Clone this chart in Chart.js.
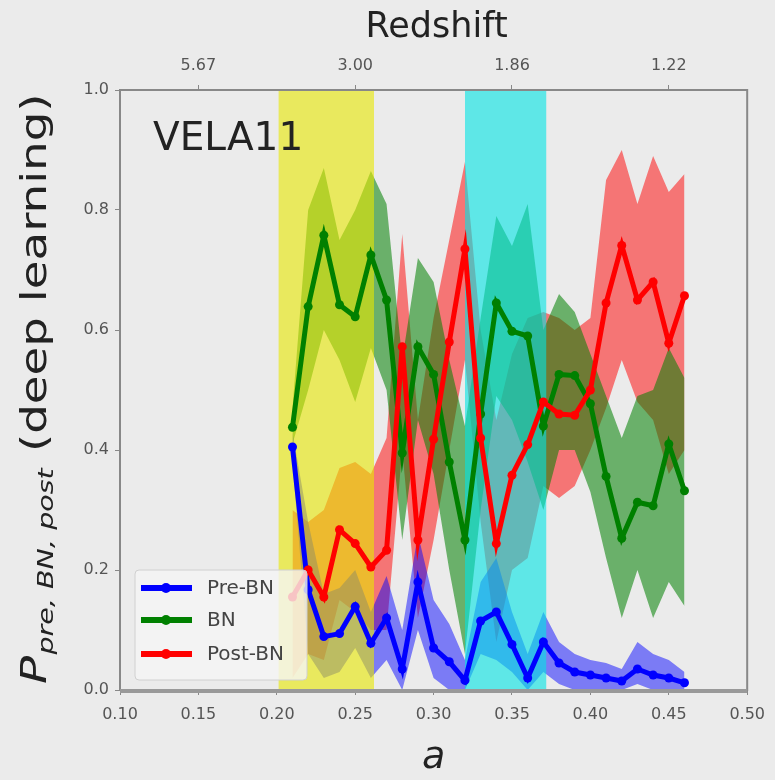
<!DOCTYPE html>
<html lang="en">
<head>
<meta charset="UTF-8">
<title>VELA11</title>
<script src="https://cdn.jsdelivr.net/npm/chart.js@4.4.1/dist/chart.umd.min.js"></script>
<style>
  html, body { margin: 0; padding: 0; background: #ebebeb; }
  canvas { display: block; }
</style>
</head>
<body>
<canvas id="chart" width="775" height="780"></canvas>
<script>
// scale factor a of each snapshot
const aVals = [0.21, 0.22, 0.23, 0.24, 0.25, 0.26, 0.27, 0.28, 0.29, 0.30, 0.31, 0.32, 0.33,
               0.34, 0.35, 0.36, 0.37, 0.38, 0.39, 0.40, 0.41, 0.42, 0.43, 0.44, 0.45, 0.46]

const preBN   = [0.405, 0.167, 0.089, 0.094, 0.139, 0.078, 0.12, 0.035, 0.18, 0.07, 0.047, 0.016, 0.115,
                 0.13, 0.076, 0.02, 0.08, 0.045, 0.03, 0.025, 0.02, 0.015, 0.035, 0.025, 0.02, 0.012]
const preBNHi = [0.43, 0.28, 0.16, 0.17, 0.20, 0.13, 0.19, 0.10, 0.26, 0.15, 0.11, 0.05, 0.18,
                 0.22, 0.13, 0.06, 0.13, 0.08, 0.06, 0.05, 0.045, 0.035, 0.08, 0.06, 0.05, 0.03]
const preBNLo = [0.38, 0.06, 0.02, 0.03, 0.07, 0.02, 0.05, 0.0, 0.10, 0.02, 0.0, 0.0, 0.06,
                 0.05, 0.03, 0.0, 0.03, 0.01, 0.0, 0.0, 0.0, 0.0, 0.01, 0.0, 0.0, 0.0]

const BN   = [0.438, 0.639, 0.758, 0.642, 0.622, 0.725, 0.65, 0.395, 0.572, 0.526, 0.38, 0.25, 0.46,
              0.645, 0.598, 0.59, 0.44, 0.526, 0.524, 0.477, 0.356, 0.253, 0.313, 0.307, 0.41, 0.332]
const BNHi = [0.47, 0.80, 0.87, 0.75, 0.80, 0.865, 0.81, 0.55, 0.72, 0.68, 0.55, 0.44, 0.62,
              0.79, 0.74, 0.81, 0.60, 0.66, 0.63, 0.56, 0.49, 0.42, 0.49, 0.50, 0.57, 0.52]
const BNLo = [0.41, 0.50, 0.60, 0.55, 0.48, 0.57, 0.50, 0.25, 0.45, 0.36, 0.20, 0.06, 0.30,
              0.49, 0.45, 0.38, 0.30, 0.40, 0.40, 0.33, 0.22, 0.12, 0.20, 0.12, 0.18, 0.14]

const postBN   = [0.155, 0.20, 0.155, 0.267, 0.244, 0.205, 0.233, 0.572, 0.25, 0.418, 0.58, 0.735, 0.42,
                  0.244, 0.358, 0.409, 0.48, 0.46, 0.458, 0.50, 0.645, 0.741, 0.65, 0.68, 0.578, 0.657]
const postBNHi = [0.30, 0.28, 0.30, 0.37, 0.38, 0.36, 0.42, 0.76, 0.45, 0.62, 0.75, 0.88, 0.60,
                  0.45, 0.56, 0.62, 0.63, 0.62, 0.60, 0.62, 0.85, 0.90, 0.81, 0.89, 0.83, 0.86]
const postBNLo = [0.02, 0.06, 0.05, 0.15, 0.13, 0.10, 0.10, 0.40, 0.12, 0.25, 0.40, 0.55, 0.28,
                  0.08, 0.20, 0.22, 0.34, 0.32, 0.34, 0.40, 0.47, 0.55, 0.48, 0.45, 0.36, 0.40]

// shaded phases (in a)
const yellowSpan = [0.201, 0.262]
const cyanSpan   = [0.320, 0.372]

// top axis: redshift labels at these a
const topTickA      = [0.15, 0.25, 0.35, 0.45]
const topTickLabels = ['5.67', '3.00', '1.86', '1.22']

const seriesNames = ['Pre-BN', 'BN', 'Post-BN']
const seriesColors = ['#0000ff', '#008000', '#ff0000']

const FONT = "'DejaVu Sans', sans-serif"
const pts = (ys) => aVals.map((a, i) => ({x: a, y: ys[i]}))

// spans sit above the bands but under the lines
function span(s, color) {
	return {
		data: [{x: s[0], y: 1}, {x: s[1], y: 1}],
		backgroundColor: color, borderWidth: 0, pointRadius: 0,
		fill: 'origin', order: 5
	}
}
function bandPair(hi, lo, color, order) {
	return [
		{ data: pts(hi), backgroundColor: color, borderWidth: 0, pointRadius: 0, fill: '+1', order: order },
		{ data: pts(lo), borderWidth: 0, pointRadius: 0, fill: false, order: order }
	]
}
function lineSet(ys, i) {
	return {
		label: seriesNames[i], data: pts(ys),
		borderColor: seriesColors[i], backgroundColor: seriesColors[i],
		borderWidth: 5, pointRadius: 4.5, pointBorderWidth: 0,
		pointBackgroundColor: seriesColors[i], fill: false, order: 3 - i
	}
}

const datasets = [
	span(yellowSpan, 'rgba(232,232,0,0.6)'),
	span(cyanSpan, 'rgba(0,228,228,0.6)'),
	...bandPair(preBNHi, preBNLo, 'rgba(0,0,255,0.48)', 10),
	...bandPair(BNHi, BNLo, 'rgba(0,128,0,0.55)', 11),
	...bandPair(postBNHi, postBNLo, 'rgba(255,0,0,0.5)', 12),
	lineSet(preBN, 0),
	lineSet(BN, 1),
	lineSet(postBN, 2)
]

const extras = {
	id: 'extras',
	beforeDraw(chart) {
		const ctx = chart.ctx
		ctx.save()
		ctx.fillStyle = '#ebebeb'
		ctx.fillRect(0, 0, chart.width, chart.height)
		ctx.restore()
	},
	afterDatasetsDraw(chart) {
		const ctx = chart.ctx
		const ca = chart.chartArea
		ctx.save()
		// frame
		ctx.strokeStyle = '#888'
		ctx.lineWidth = 2
		ctx.strokeRect(ca.left, ca.top, ca.right - ca.left, ca.bottom - ca.top)
		ctx.fillStyle = '#999'
		ctx.fillRect(ca.left, ca.bottom - 1, ca.right - ca.left, 4)

		// label in corner
		ctx.fillStyle = '#222'
		ctx.font = '39px ' + FONT
		ctx.textBaseline = 'alphabetic'
		ctx.fillText('VELA11', 153, 150)

		// legend box
		const lx = 135, ly = 570, lw = 172, lh = 110
		ctx.fillStyle = 'rgba(245,245,245,0.8)'
		ctx.strokeStyle = '#d0d0d0'
		ctx.lineWidth = 1
		ctx.beginPath()
		ctx.roundRect(lx, ly, lw, lh, 4)
		ctx.fill()
		ctx.stroke()
		const rows = [588, 620, 654]
		seriesNames.forEach((name, i) => {
			const y = rows[i]
			ctx.strokeStyle = seriesColors[i]
			ctx.lineWidth = 6
			ctx.beginPath()
			ctx.moveTo(141, y)
			ctx.lineTo(192, y)
			ctx.stroke()
			ctx.fillStyle = seriesColors[i]
			ctx.beginPath()
			ctx.arc(166, y, 5, 0, Math.PI * 2)
			ctx.fill()
			ctx.fillStyle = '#444'
			ctx.font = '20px ' + FONT
			ctx.textBaseline = 'middle'
			ctx.fillText(name, 207, y + 1)
		})
		ctx.restore()
	},
	afterDraw(chart) {
		const ctx = chart.ctx
		const ca = chart.chartArea
		const cx = (ca.left + ca.right) / 2
		ctx.save()
		ctx.fillStyle = '#222'
		ctx.textAlign = 'center'
		ctx.textBaseline = 'alphabetic'
		ctx.font = '35px ' + FONT
		ctx.fillText('Redshift', cx + 3, 37)
		ctx.font = 'italic 38px ' + FONT
		ctx.fillText('a', cx, 768)

		// y title, stretched along its length to span the axis
		ctx.textAlign = 'left'
		const f1 = 'italic 36px ' + FONT, f2 = 'italic 22px ' + FONT, f3 = '36px ' + FONT
		const t1 = 'P', t2 = 'pre, BN, post', t3 = ' (deep learning)'
		ctx.font = f1; const w1 = ctx.measureText(t1).width
		ctx.font = f2; const w2 = ctx.measureText(t2).width
		ctx.font = f3; const w3 = ctx.measureText(t3).width
		const k = 588 / (w1 + w2 + w3)
		ctx.translate(46, 684)
		ctx.rotate(-Math.PI / 2)
		ctx.scale(k, 1)
		ctx.font = f1; ctx.fillText(t1, 0, 0)
		ctx.font = f2; ctx.fillText(t2, w1 + 1, 7)
		ctx.font = f3; ctx.fillText(t3, w1 + w2 + 2, 0)
		ctx.restore()
	}
}

const tickFont = {family: FONT, size: 16}
const tickColor = '#555'

new Chart(document.getElementById('chart'), {
	type: 'line',
	data: { datasets: datasets },
	options: {
		responsive: false,
		animation: false,
		devicePixelRatio: 1,
		layout: { padding: { left: 0, right: 23, top: 0, bottom: 0 } },
		plugins: { legend: { display: false }, tooltip: { enabled: false } },
		elements: { line: { tension: 0 } },
		scales: {
			x: {
				type: 'linear', position: 'bottom', min: 0.1, max: 0.5,
				ticks: { stepSize: 0.05, font: tickFont, color: tickColor, padding: 10,
					callback: (v) => v.toFixed(2), maxRotation: 0 },
				grid: { drawOnChartArea: false, tickLength: 5, color: '#888' },
				border: { display: false },
				afterFit: (s) => { s.height = 90 }
			},
			x2: {
				type: 'linear', position: 'top', min: 0.1, max: 0.5,
				afterBuildTicks: (s) => { s.ticks = topTickA.map(v => ({value: v})) },
				ticks: { font: tickFont, color: tickColor, padding: 10, maxRotation: 0,
					callback: (v) => topTickLabels[topTickA.indexOf(v)] },
				grid: { drawOnChartArea: false, tickLength: 5, color: '#888' },
				border: { display: false },
				afterFit: (s) => { s.height = 90 }
			},
			y: {
				min: 0, max: 1,
				ticks: { stepSize: 0.2, font: tickFont, color: tickColor, padding: 6,
					callback: (v) => v.toFixed(1) },
				grid: { drawOnChartArea: false, tickLength: 5, color: '#888' },
				border: { display: false },
				afterFit: (s) => { s.width = 120 }
			}
		}
	},
	plugins: [extras]
})
</script>
</body>
</html>
